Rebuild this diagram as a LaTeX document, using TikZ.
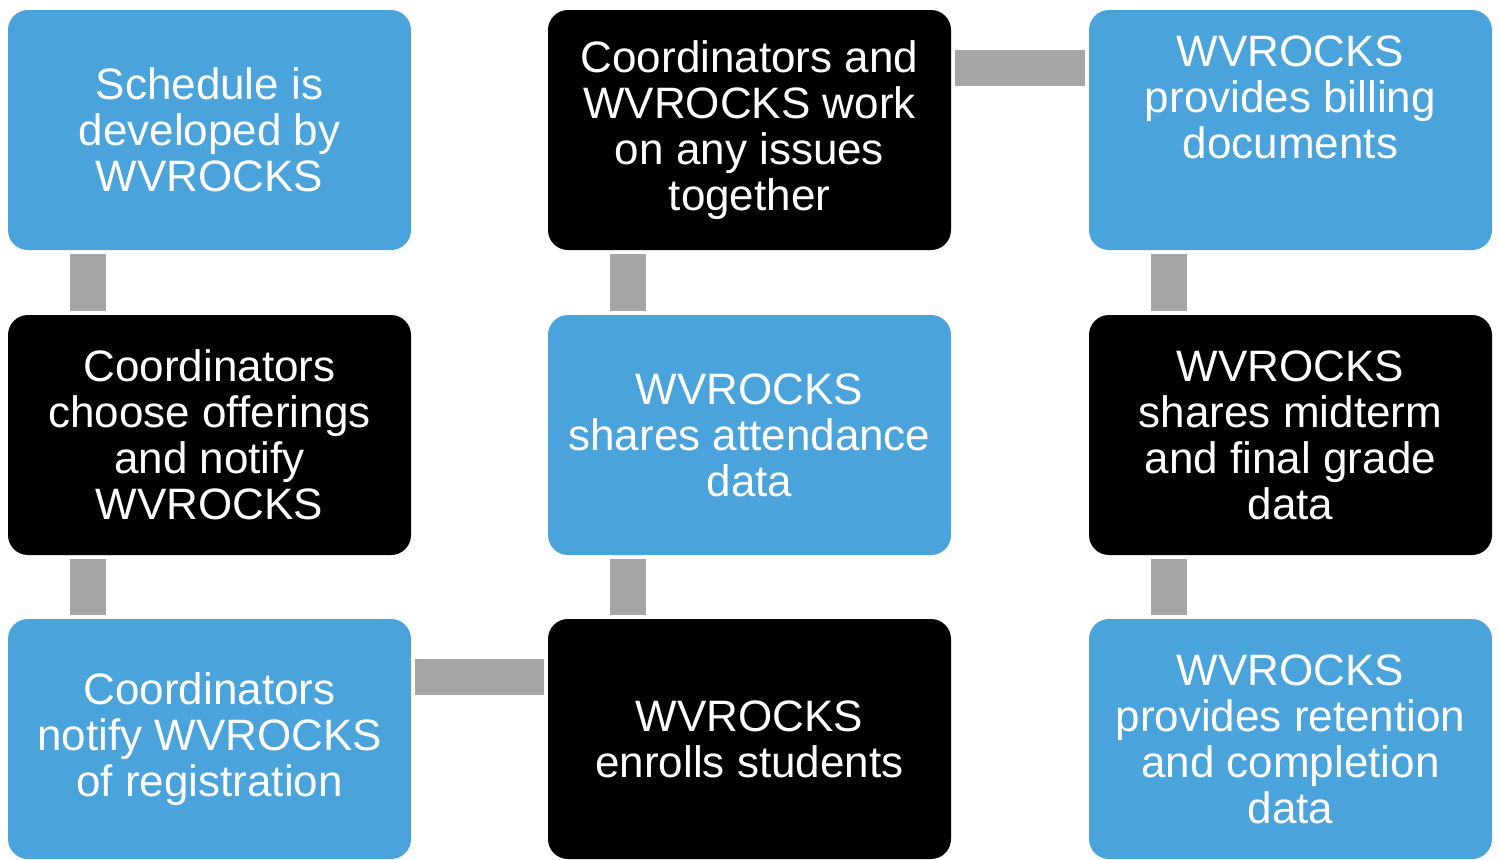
\documentclass[tikz,border=0pt]{standalone}
\usepackage{fontspec}
\setmainfont{Liberation Sans}
\definecolor{stepblue}{HTML}{4AA3DB}
\definecolor{linkgray}{HTML}{A6A6A6}
\begin{document}
\begin{tikzpicture}[x=0.5pt,y=-0.5pt,
        box/.style={rounded corners=10pt,minimum width=201.5pt,minimum height=120pt,inner sep=2pt,align=center,text=white,font=\fontsize{22}{23}\selectfont},
        bluebox/.style={box,fill=stepblue},
        blackbox/.style={box,fill=black},
        link/.style={draw=linkgray,line width=18pt,shorten <=2pt,shorten >=2pt}]
    \useasboundingbox (0,0) rectangle (1501,859);
    % first column
    \node[bluebox] (sched) at (209.5,130) {Schedule is\\developed by\\WVROCKS};
    \node[blackbox] (choose) at (209.5,435) {Coordinators\\choose offerings\\and notify\\WVROCKS};
    \node[bluebox] (regist) at (209.5,739) {Coordinators\\notify WVROCKS\\of registration};
    % second column
    \node[blackbox] (issues) at (749.5,130) {Coordinators and\\WVROCKS work\\on any issues\\together};
    \node[bluebox] (attend) at (749.5,435) {WVROCKS\\shares attendance\\data};
    \node[blackbox] (enroll) at (749.5,739) {WVROCKS\\enrolls students};
    % third column
    \node[bluebox] (bill) at (1290.5,130) {};
    \node[box,minimum size=0pt] (billtext) at ([yshift=16.5pt]bill.center) {WVROCKS\\provides billing\\documents};
    \node[blackbox] (grade) at (1290.5,435) {WVROCKS\\shares midterm\\and final grade\\data};
    \node[bluebox] (retain) at (1290.5,739) {WVROCKS\\provides retention\\and completion\\data};
    % connectors
    \draw[link] ([xshift=40pt]sched.south west) -- ([xshift=40pt]choose.north west);
    \draw[link] ([xshift=40pt]choose.south west) -- ([xshift=40pt]regist.north west);
    \draw[link] ([yshift=-29pt]regist.north east) -- ([yshift=-29pt]enroll.north west);
    \draw[link] ([xshift=40pt]enroll.north west) -- ([xshift=40pt]attend.south west);
    \draw[link] ([xshift=40pt]attend.north west) -- ([xshift=40pt]issues.south west);
    \draw[link] ([yshift=-29pt]issues.north east) -- ([yshift=-29pt]bill.north west);
    \draw[link] ([xshift=40pt]bill.south west) -- ([xshift=40pt]grade.north west);
    \draw[link] ([xshift=40pt]grade.south west) -- ([xshift=40pt]retain.north west);
\end{tikzpicture}
\end{document}
